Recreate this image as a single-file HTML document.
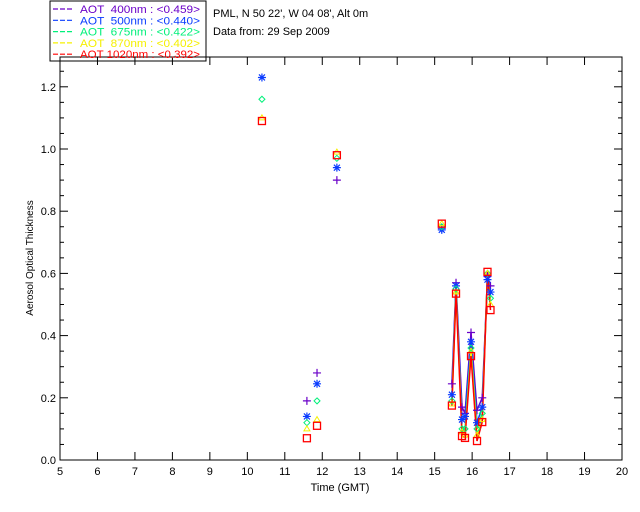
<!DOCTYPE html>
<html><head><meta charset="utf-8"><style>
body{margin:0;background:#fff;width:640px;height:512px;overflow:hidden}
svg{display:block;font-family:"Liberation Sans",sans-serif}
</style></head><body>
<svg id="c" width="640" height="512">
<rect x="50" y="1" width="156" height="60" fill="#fff" stroke="#000"/>
<text x="213" y="17" font-size="11">PML, N 50 22', W 04 08', Alt 0m</text>
<text x="213" y="35" font-size="11">Data from: 29 Sep 2009</text>
<text x="340" y="491" font-size="11" text-anchor="middle">Time (GMT)</text>
<text transform="translate(33,258) rotate(-90)" font-size="10" text-anchor="middle">Aerosol Optical Thickness</text>
<g id="g"></g>
</svg>
<script>
const times=[10.39,11.59,11.86,12.39,15.19,15.46,15.57,15.73,15.81,15.97,16.13,16.27,16.41,16.49];
const aot400=[1.35,0.19,0.28,0.90,0.745,0.245,0.57,0.17,0.15,0.41,0.16,0.20,0.59,0.56];
const aot500=[1.23,0.14,0.245,0.94,0.74,0.21,0.56,0.13,0.14,0.38,0.12,0.17,0.58,0.54];
const aot675=[1.16,0.12,0.19,0.97,0.75,0.19,0.55,0.10,0.10,0.36,0.10,0.15,0.60,0.52];
const aot870=[1.10,0.10,0.13,0.99,0.76,0.18,0.54,0.09,0.08,0.35,0.08,0.13,0.60,0.50];
const aot1020=[1.09,0.07,0.11,0.98,0.76,0.175,0.535,0.077,0.071,0.334,0.061,0.122,0.605,0.482];
const seriesNames=["AOT  400nm : <0.459>","AOT  500nm : <0.440>","AOT  675nm : <0.422>","AOT  870nm : <0.402>","AOT 1020nm : <0.392>"];
const xTicks=[5,6,7,8,9,10,11,12,13,14,15,16,17,18,19,20];
const yTicks=[0.0,0.2,0.4,0.6,0.8,1.0,1.2];
const L=60,R=622,T=57,B=460;
const xS=t=>L+(t-5)/15*(R-L);
const yS=v=>B-v*311;
const NS="http://www.w3.org/2000/svg";
const g=document.getElementById('g');
function el(tag,attrs,parent){const e=document.createElementNS(NS,tag);for(const k in attrs)e.setAttribute(k,attrs[k]);(parent||g).appendChild(e);return e;}
const frame=el('rect',{x:L,y:T,width:R-L,height:B-T,fill:'none',stroke:'#000'});


xTicks.forEach(t=>{const x=xS(t);
 el('line',{x1:x,x2:x,y1:B,y2:B-8,stroke:'#000'});el('line',{x1:x,x2:x,y1:T,y2:T+8,stroke:'#000'});
 const tx=el('text',{x:x,y:B+15,'font-size':11,'text-anchor':'middle'});tx.textContent=t;
 
 });
for(let v=0;v<=1.29;v+=0.05){const y=yS(v);const maj=Math.abs(v/0.2-Math.round(v/0.2))<1e-6;
 el('line',{x1:L,x2:L+(maj?8:4),y1:y,y2:y,stroke:'#000'});el('line',{x1:R,x2:R-(maj?8:4),y1:y,y2:y,stroke:'#000'});}
yTicks.forEach(v=>{const tx=el('text',{x:L-4,y:yS(v)+4,'font-size':11,'text-anchor':'end'});tx.textContent=v.toFixed(1);
 
 });
const series=[aot400,aot500,aot675,aot870,aot1020];
const colors=['#6a00c8','#0a3cff','#00f07a','#f5f000','#ff0000'];
const clip=el('clipPath',{id:'cp'});el('rect',{x:L,y:T,width:R-L,height:B-T},clip);
const plot=el('g',{'clip-path':'url(#cp)'});
series.forEach((s,i)=>{
 for(let k=1;k<times.length;k++){ if(times[k]-times[k-1]<0.2){
  const ln=el('line',{x1:xS(times[k-1]),y1:yS(s[k-1]),x2:xS(times[k]),y2:yS(s[k]),stroke:colors[i],'stroke-width':1.5},plot);
  
  }}
});
series.forEach((s,i)=>{const c=colors[i];
 s.forEach((v,k)=>{const x=xS(times[k]),y=yS(v);let m;
  if(i==0)m=el('path',{d:`M${x-4},${y}h8M${x},${y-4}v8`,stroke:c,'stroke-width':1.2,fill:'none'},plot);
  else if(i==1)m=el('path',{d:`M${x-4},${y}h8M${x},${y-4}v8M${x-3},${y-3}l6,6M${x-3},${y+3}l6,-6`,stroke:c,'stroke-width':1.2,fill:'none'},plot);
  else if(i==2)m=el('path',{d:`M${x},${y-3}l3,3l-3,3l-3,-3z`,stroke:c,fill:'none'},plot);
  else if(i==3)m=el('path',{d:`M${x},${y-3}l3,5h-6z`,stroke:c,fill:'none'},plot);
  else m=el('rect',{x:x-3.5,y:y-3.5,width:7,height:7,stroke:c,'stroke-width':1.3,fill:'none'},plot);
  
  });});
seriesNames.forEach((n,i)=>{const y=13+i*11.3;
 el('line',{x1:53,x2:73,y1:y-4,y2:y-4,stroke:colors[i],'stroke-width':1.2,'stroke-dasharray':'5,2'});
 const tx=el('text',{x:80,y:y,'font-size':11,textLength:120,lengthAdjust:'spacingAndGlyphs',fill:colors[i],'style':'white-space:pre'});tx.textContent=n;
 
 });
</script>
</body></html>
